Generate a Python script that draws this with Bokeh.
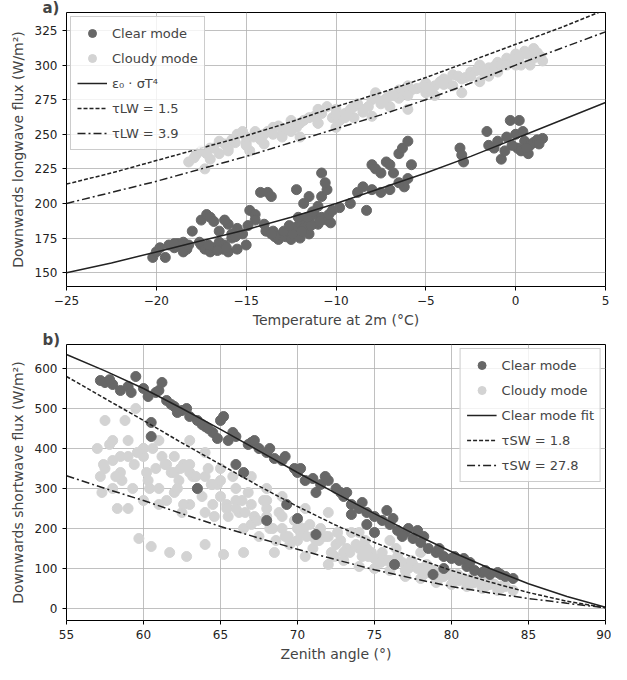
from bokeh.plotting import figure
from bokeh.layouts import column
from bokeh.models import Range1d, Title, Legend, LegendItem, FixedTicker
from bokeh.embed import file_html
from bokeh.resources import INLINE

FONT = "DejaVu Sans"
DARK = "#676767"
LIGHT = "#d3d3d3"

# ---- panel a data ----
a_clear_x = [-20.2, -20, -19.8, -19.5, -19.3, -19, -18.8, -18.5, -18.3, -18.5, -19, -18.2,
             -18, -17.5, -17.2, -17, -17.5, -17.3, -17, -16.8, -16.5, -16.3, -16, -16.2, -16.5, -16, -15.8, -15.5, -15.2, -15, -15.5, -16.8, -16.2, -15.8,
             -14.8, -14.5, -14.2, -13.8, -13.6, -14.5, -14, -13.5, -13, -13.2, -12.8, -12.5, -12.2, -12, -11.8, -11.5, -11.2, -11, -10.8, -10.5, -10.6, -10.8, -11, -10.5, -10.3, -10.8, -11.5, -12, -12.5, -12.2, -11.5, -11.8,
             -9.8, -9.2, -8.8, -8.5, -8.3, -8, -7.8, -7.5, -7.2, -7, -6.8, -6.5, -6.3, -6, -6, -5.8, -6.2, -6.5, -7, -7.5, -8,
             -3.1, -3, -2.9,
             -1.6, -1.5, -1.2, -1, -0.8, -0.5, -0.3, 0.2, 0, 0.1, 0.3, 0.5, 0.8, 1, 1.2, 1.5, 0.4, 0.7,
             -17.6, -17.1, -16.6, -16.1, -15.6, -14.9, -13.9, -13.4, -12.9, -12.4, -11.9, -11.4, -10.9, -10.4, -11.6, -12.6, -13.6,
             -10.2, -11.3, -12.1, -0.2, 0.6, 1.3, -0.6]
a_clear_y = [161, 165, 168, 161, 170, 168, 171, 172, 167, 165, 171, 170,
             180, 188, 192, 190, 170, 167, 165, 168, 172, 167, 165, 170, 180, 185, 178, 182, 178, 170, 167, 187, 188, 175,
             195, 192, 208, 208, 205, 188, 185, 180, 178, 174, 176, 180, 183, 186, 182, 188, 192, 198, 205, 210, 215, 222, 185, 188, 186, 190, 178, 175, 174, 210, 205, 200,
             197, 200, 208, 212, 195, 228, 225, 222, 230, 228, 222, 236, 240, 245, 218, 228, 212, 215, 210, 208, 210,
             240, 235, 230,
             252, 242, 240, 245, 232, 248, 260, 260, 250, 240, 238, 245, 242, 244, 246, 247, 252, 236,
             172, 170, 166, 168, 176, 184, 180, 176, 180, 178, 180, 184, 187, 192, 190, 184, 178,
             195, 194, 190, 242, 240, 243, 238]
a_cloudy_x = [-18.2, -17.8, -17.5, -17.3, -17, -16.5, -16, -15.8, -15.5, -15.2, -15, -14.8, -14.5, -14, -13.5, -13.2, -13, -12.5, -12,
              -11.5, -11, -10.8, -10.5, -10, -9.8, -9.5, -9, -8.5, -8, -7.8, -7.5, -7, -6.5, -6, -6, -5.5, -5, -4.5, -4, -3.5,
              -3, -2.5, -2, -1.5, -1, -0.5, 0, 0.5, 1, 1.5, -3, -4.5, -2, 0, -12, -10, -8, -16.5, -1, 1, 0.3,
              -17, -14, -11, -9, -7, -5, -3.5, -1.5, 0.8, -13, -15, -6.5,
              -17.9, -17.2, -16.8, -16.2, -15.6, -14.6, -14.2, -13.8, -12.8, -12.2, -11.8, -11.2, -10.2, -9.2, -8.8, -8.2,
              -7.2, -6.8, -6.2, -5.8, -5.2, -4.8, -4.2, -3.8, -3.2, -2.8, -2.2, -1.8, -1.2, -0.8, -0.2, 0.2, 0.6, 1.2,
              -16, -15, -13.5, -12.5, -11, -10, -9.5, -8.5, -7.5, -6, -5, -4, -2.5, -0.5, 1.4]
a_cloudy_y = [230, 235, 238, 225, 240, 236, 240, 246, 250, 252, 244, 238, 252, 250, 255, 256, 250, 260, 258,
              262, 268, 265, 270, 268, 260, 265, 270, 268, 275, 280, 272, 278, 282, 268, 285, 283, 287, 285, 290, 293,
              290, 295, 300, 298, 302, 305, 308, 310, 305, 303, 280, 278, 288, 300, 248, 255, 263, 245, 295, 312, 300,
              232, 243, 258, 262, 270, 280, 285, 292, 300, 248, 242, 276,
              233, 236, 240, 243, 244, 248, 246, 252, 254, 255, 260, 263, 262, 268, 272, 270,
              276, 278, 281, 282, 284, 282, 288, 287, 292, 291, 296, 295, 299, 300, 304, 306, 308, 309,
              238, 248, 250, 252, 258, 264, 262, 266, 274, 278, 284, 286, 292, 300, 306]
a_line_x = [-25, -22.5, -20, -17.5, -15, -12.5, -10, -7.5, -5, -2.5, 0, 2.5, 5]
a_solid = [150, 157, 165, 173, 181, 190, 200, 211, 222, 234, 247, 260, 273]
a_dash = [214, 222, 231, 240, 249, 259, 270, 280, 291, 303, 315, 327, 340]
a_dashdot = [200, 208, 216, 225, 234, 244, 254, 264, 275, 287, 300, 312, 324]

# ---- panel b data ----
b_clear_x = [57.2, 57.5, 58, 58.5, 59, 59.5, 60, 60.3, 60.5, 60.8, 61, 61.2, 61.5, 62, 62.5, 63, 63.5, 64, 64.5, 65, 65.2, 65.5,
             66, 66.5, 67, 67.5, 68, 68.5, 69, 69.3, 70, 70.5, 71, 71.2, 71.5, 72, 72.5, 73, 73.5, 74, 74.5, 75, 75.5, 76,
             76.3, 76.5, 77, 77.5, 78, 78.5, 79, 79.5, 80, 80.5, 81, 81.5, 82, 82.5, 83, 83.5, 84, 63.5, 68, 70, 71.2, 78.8,
             79.5, 66, 60.5, 73.5, 74.5, 75, 57.8, 59.2, 62.2, 63.8, 64.8, 66.8, 69.8, 72.8, 77.2, 80.8, 82.2, 76.8,
             61.8, 62.8, 64.2, 65.8, 67.2, 68.2, 69.2, 70.2, 71.8, 73.2, 74.2, 75.8, 76.2, 77.8, 78.2, 79.2, 80.2, 81.2, 83.2]
b_clear_y = [570, 565, 560, 545, 555, 580, 550, 530, 465, 540, 545, 565, 520, 505, 495, 480, 470, 455, 440, 470, 480, 420,
             430, 340, 415, 400, 390, 375, 370, 260, 340, 320, 325, 290, 310, 320, 300, 280, 260, 250, 240, 230, 220, 210,
             110, 195, 190, 175, 165, 150, 140, 130, 125, 120, 105, 95, 90, 85, 90, 80, 75, 300, 220, 225, 185, 85,
             100, 360, 430, 235, 210, 190, 572, 540, 490, 460, 425, 410, 350, 290, 200, 125, 95, 180,
             510, 500, 450, 440, 420, 400, 380, 350, 330, 290, 265, 245, 225, 195, 180, 150, 130, 115, 85]
b_cloudy_x = [57, 57.2, 57.3, 57.5, 57.8, 58, 58.3, 58.5, 58.8, 59, 59.3, 59.5, 59.7, 60, 60.3, 60.5, 60.8, 61, 61.5, 61.7,
              62, 62.3, 62.5, 62.8, 63, 63.5, 64, 64, 64.5, 65, 65.2, 65.5, 66, 66.5, 66.5, 67, 67.5, 68, 68.5, 69,
              69.5, 70, 70.5, 70.5, 71, 71.5, 72, 72.5, 73, 73.5, 74, 74.5, 75, 75.5, 76, 76.5, 77, 77.5, 78, 78.5,
              79, 79.5, 80, 80.5, 81, 81.5, 82, 82.5, 83, 83.5, 84, 61, 62, 63, 64, 65, 58, 59, 60, 67, 68, 69, 70,
              72, 74, 76, 78, 57.5, 58.5, 60, 61.5, 63, 64.5, 66, 68, 70, 72, 74, 76, 78, 80, 82,
              58, 58.6, 59.4, 60.2, 60.6, 61.2, 61.8, 62.2, 62.6, 63.2, 63.8, 64.2, 64.8, 65.4, 65.8, 66.2, 66.8, 67.2, 67.8, 68.2,
              68.8, 69.2, 69.8, 70.2, 70.8, 71.2, 71.8, 72.2, 72.8, 73.2, 73.8, 74.2, 74.8, 75.2, 75.8, 76.2, 76.8, 77.2, 77.8, 78.2,
              78.8, 79.2, 79.8, 80.2, 80.8, 81.2, 81.8, 82.2, 82.8, 83.2, 59, 60, 61, 62, 63, 64, 65, 66, 67, 68, 69, 71, 73, 75, 77,
              57.4, 58.2, 59.6, 60.4, 61.4, 62.4, 63.4, 64.4, 65.4, 66.4, 67.4, 68.4, 69.4, 70.4, 71.4, 72.4, 73.4, 74.4, 75.4, 76.4,
              77.4, 78.4, 79.4, 80.4, 81.4, 82.4, 83.4, 62.6, 64.6, 66.6, 68.6, 70.6, 72.6, 74.6]
b_cloudy_y = [400, 330, 290, 470, 410, 370, 250, 340, 470, 420, 300, 500, 175, 380, 320, 155, 350, 420, 270, 140,
              380, 320, 240, 130, 360, 300, 330, 160, 260, 280, 135, 230, 300, 200, 140, 260, 180, 230, 140, 200,
              160, 170, 250, 130, 150, 200, 110, 160, 120, 190, 105, 150, 100, 140, 95, 130, 80, 110, 75, 90,
              65, 80, 60, 70, 55, 65, 50, 60, 45, 55, 45, 260, 290, 420, 390, 350, 300, 250, 270, 330, 300, 280, 220,
              240, 190, 170, 140, 350, 380, 400, 360, 340, 310, 270, 250, 200, 180, 150, 120, 100, 85, 70,
              420, 320, 360, 340, 400, 380, 340, 300, 360, 330, 280, 350, 310, 260, 330, 240, 290, 230, 270, 200,
              240, 180, 220, 190, 210, 170, 180, 140, 170, 150, 160, 130, 140, 120, 120, 110, 115, 100, 100, 85,
              95, 75, 85, 70, 75, 60, 65, 55, 60, 50, 380, 400, 300, 340, 260, 240, 320, 250, 210, 270, 230, 180, 140, 125, 95,
              360, 330, 390, 300, 360, 350, 330, 310, 250, 270, 220, 200, 180, 200, 170, 130, 140, 170, 115, 150,
              120, 110, 95, 85, 80, 70, 60, 260, 230, 240, 170, 180, 190, 130]
b_line_x = [55, 57.5, 60, 62.5, 65, 67.5, 70, 72.5, 75, 77.5, 80, 82.5, 85, 87.5, 90]
b_solid = [635, 594, 550, 500, 448, 394, 340, 288, 237, 188, 142, 100, 62, 30, 3]
b_dash = [580, 525, 470, 414, 360, 306, 255, 208, 165, 128, 95, 66, 40, 18, 2]
b_dashdot = [332, 300, 270, 237, 205, 176, 148, 122, 97, 75, 55, 39, 25, 13, 2]


def style(p):
    p.outline_line_color = "black"
    p.outline_line_width = 1
    for ax in (p.xaxis, p.yaxis):
        ax.axis_label_text_font = FONT
        ax.axis_label_text_font_style = "normal"
        ax.axis_label_text_font_size = "14px"
        ax.major_label_text_font = FONT
        ax.major_label_text_font_size = "12px"
        ax.major_label_text_color = "#222222"
        ax.minor_tick_line_color = None
        ax.axis_line_color = None
        ax.major_tick_out = 4
        ax.major_tick_in = 0
    p.xaxis.axis_label_standoff = 4
    p.yaxis.axis_label_standoff = 6
    p.grid.grid_line_color = "#b0b0b0"
    p.grid.grid_line_alpha = 0.8


def legend(p, items, loc):
    lg = Legend(items=items, location=loc, label_text_font=FONT, label_text_font_size="13px",
                border_line_color="#cccccc", border_line_alpha=1, background_fill_alpha=0.8,
                glyph_width=30, spacing=5, padding=6, margin=4)
    p.add_layout(lg, "center")


def tag(p, text):
    p.add_layout(Title(text=text, align="left", offset=-24, standoff=-8, text_font=FONT,
                       text_font_style="bold", text_font_size="15px"), "above")


# ---- panel a ----
pa = figure(width=611, height=332, output_backend="svg", toolbar_location=None,
            x_range=Range1d(-25, 5), y_range=Range1d(140, 338),
            min_border_left=66, min_border_right=6, min_border_top=0, min_border_bottom=46)
style(pa)
pa.xaxis.ticker = FixedTicker(ticks=[-25, -20, -15, -10, -5, 0, 5])
pa.yaxis.ticker = FixedTicker(ticks=[150, 175, 200, 225, 250, 275, 300, 325])
pa.xaxis.axis_label = "Temperature at 2m (°C)"
pa.yaxis.axis_label = "Downwards longwave flux (W/m²)"
r2 = pa.scatter(a_cloudy_x, a_cloudy_y, size=10, color=LIGHT)
r1 = pa.scatter(a_clear_x, a_clear_y, size=10, color=DARK)
r3 = pa.line(a_line_x, a_solid, line_color="#222222", line_width=1.5)
r4 = pa.line(a_line_x, a_dash, line_color="#222222", line_width=1.5, line_dash="4 2")
r5 = pa.line(a_line_x, a_dashdot, line_color="#222222", line_width=1.5, line_dash="8 3 2 3")
legend(pa, [LegendItem(label="Clear mode", renderers=[r1]),
            LegendItem(label="Cloudy mode", renderers=[r2]),
            LegendItem(label="ε₀ · σT⁴", renderers=[r3]),
            LegendItem(label="τLW = 1.5", renderers=[r4]),
            LegendItem(label="τLW = 3.9", renderers=[r5])], "top_left")
tag(pa, "a)")

# ---- panel b ----
pb = figure(width=611, height=332, output_backend="svg", toolbar_location=None,
            x_range=Range1d(55, 90), y_range=Range1d(-30, 660),
            min_border_left=66, min_border_right=6, min_border_top=0, min_border_bottom=40)
style(pb)
pb.xaxis.ticker = FixedTicker(ticks=[55, 60, 65, 70, 75, 80, 85, 90])
pb.yaxis.ticker = FixedTicker(ticks=[0, 100, 200, 300, 400, 500, 600])
pb.xaxis.axis_label = "Zenith angle (°)"
pb.yaxis.axis_label = "Downwards shortwave flux (W/m²)"
s2 = pb.scatter(b_cloudy_x, b_cloudy_y, size=10, color=LIGHT)
s1 = pb.scatter(b_clear_x, b_clear_y, size=10, color=DARK)
s3 = pb.line(b_line_x, b_solid, line_color="#222222", line_width=1.5)
s4 = pb.line(b_line_x, b_dash, line_color="#222222", line_width=1.5, line_dash="4 2")
s5 = pb.line(b_line_x, b_dashdot, line_color="#222222", line_width=1.5, line_dash="8 3 2 3")
legend(pb, [LegendItem(label="Clear mode", renderers=[s1]),
            LegendItem(label="Cloudy mode", renderers=[s2]),
            LegendItem(label="Clear mode fit", renderers=[s3]),
            LegendItem(label="τSW = 1.8", renderers=[s4]),
            LegendItem(label="τSW = 27.8", renderers=[s5])], "top_right")
tag(pb, "b)")

p = column(pa, pb, spacing=0)
open("out.html", "w").write(file_html(p, INLINE))
